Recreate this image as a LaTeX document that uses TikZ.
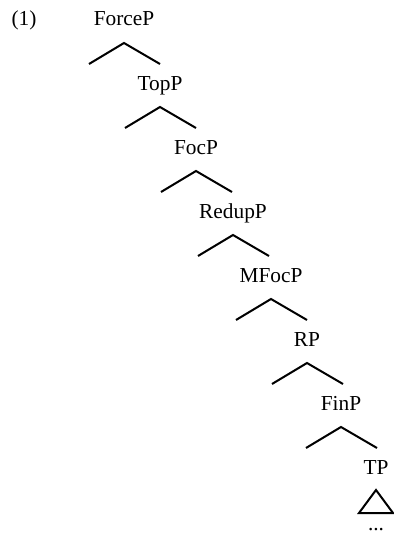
\documentclass[tikz,border=0pt]{standalone}
\usepackage{fontspec}
\setmainfont{Liberation Serif}
\begin{document}
\begin{tikzpicture}[x=0.75pt, y=-0.75pt, line width=1.5pt,
    cat/.style={anchor=base, inner sep=0pt, font=\fontsize{16}{19}\selectfont}]
    \useasboundingbox (0,0) rectangle (393,542);
    % example number
    \node[cat] (num) at (24,26) {(1)};

    % left branching spine
    \node[cat] (force) at (124,26)  {ForceP};
    \node[cat] (top)   at (160,90)  {TopP};
    \node[cat] (foc)   at (196,154) {FocP};
    \node[cat] (redup) at (233,218) {RedupP};
    \node[cat] (mfoc)  at (271,282) {MFocP};
    \node[cat] (r)     at (307,346) {RP};
    \node[cat] (fin)   at (341,410) {FinP};
    \node[cat] (tp)    at (376,474) {TP};

    % the two branches under every head
    \foreach \p in {force,top,foc,redup,mfoc,r,fin}
        \draw ([shift={(-35,38)}]\p.base) -- ([shift={(0,17)}]\p.base)
            -- ([shift={(36,38)}]\p.base);

    % TP is left unanalysed
    \draw ([shift={(0,16)}]tp.base) -- ([shift={(-17,39)}]tp.base)
        -- ([shift={(17,39)}]tp.base) -- cycle;
    \node[cat] (rest) at (376,530) {...};
\end{tikzpicture}
\end{document}
